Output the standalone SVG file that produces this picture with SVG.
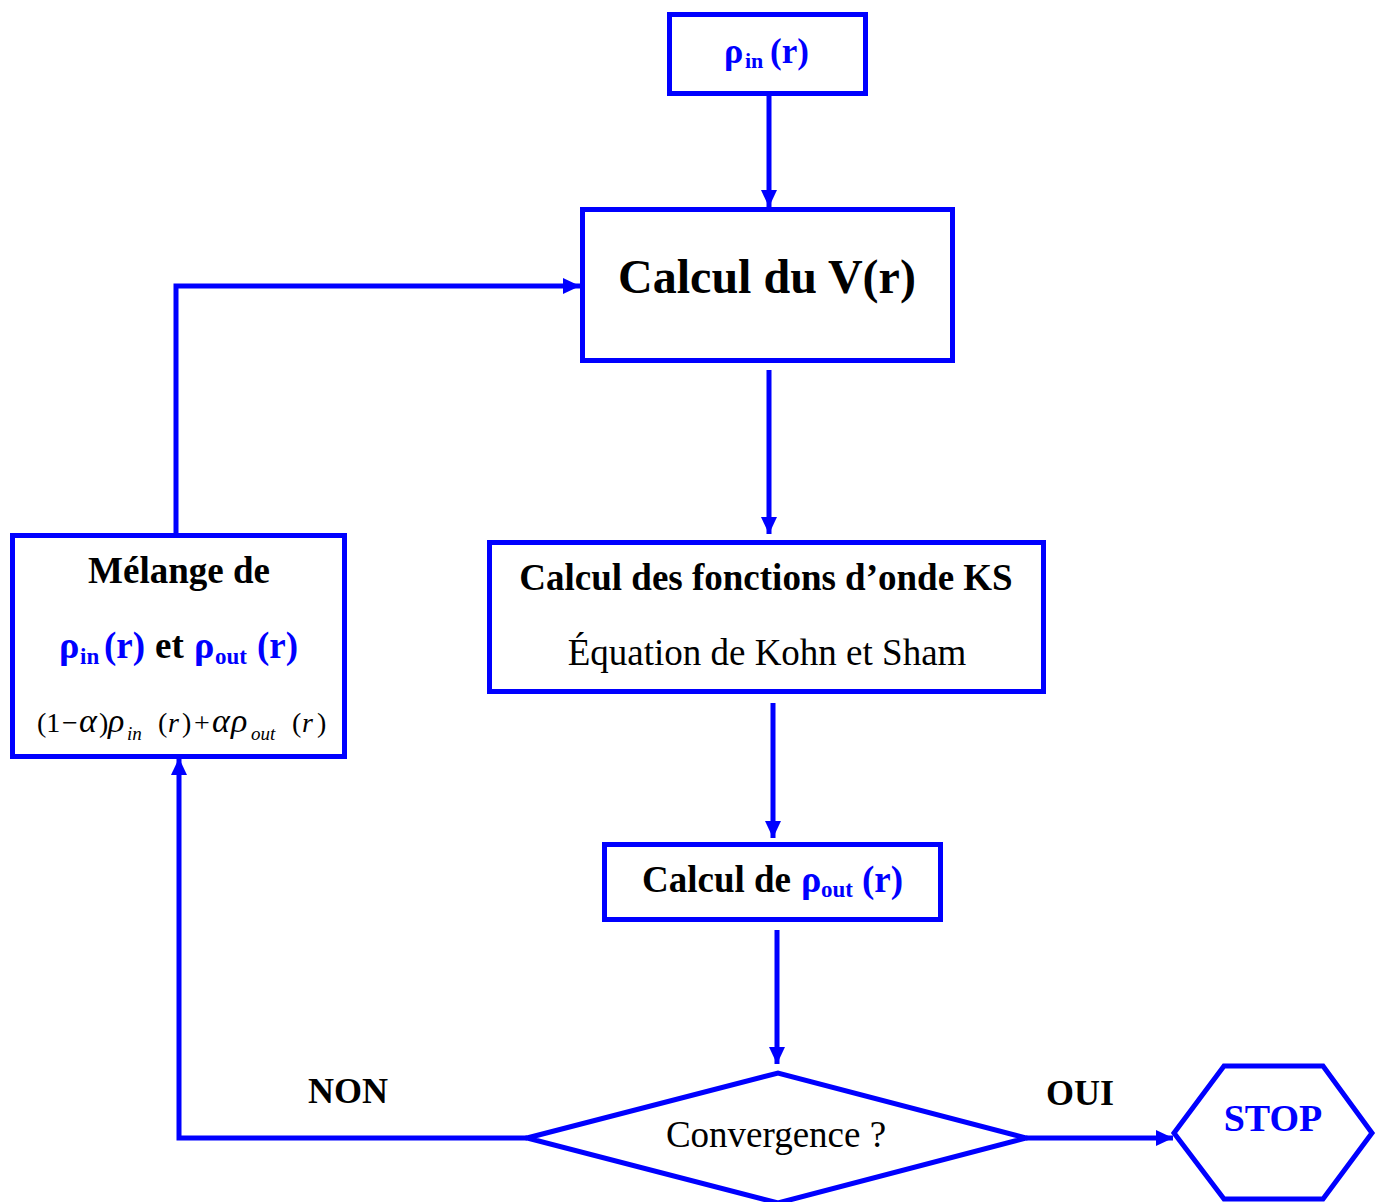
<svg xmlns="http://www.w3.org/2000/svg" width="1380" height="1202" viewBox="0 0 1380 1202">
  <style>
    .box { fill: #ffffff; stroke: #0000ff; stroke-width: 5; }
    .wire { fill: none; stroke: #0000ff; stroke-width: 5; stroke-linejoin: miter; }
    text { font-family: "Liberation Serif", "Times New Roman", serif; fill: #000000; }
    .b { font-weight: bold; }
    .blue { fill: #0000ff; }
    .it { font-style: italic; }
    .gk { font-style: italic; font-size: 34px; }
    .sub { font-style: italic; font-size: 19px; }
  </style>
  <defs>
    <marker id="arrow" markerUnits="userSpaceOnUse" markerWidth="18" markerHeight="18" refX="17" refY="9" orient="auto" viewBox="0 0 18 18">
      <path d="M0,1 L17,9 L0,17 Z" fill="#0000ff"/>
    </marker>
  </defs>

  <rect width="1380" height="1202" fill="#ffffff"/>

  <!-- connectors -->
  <g id="connectors">
    <path class="wire" d="M769,95 L769,207" marker-end="url(#arrow)"/>
    <path class="wire" d="M769,370 L769,534" marker-end="url(#arrow)"/>
    <path class="wire" d="M773,703 L773,838" marker-end="url(#arrow)"/>
    <path class="wire" d="M777,930 L777,1064" marker-end="url(#arrow)"/>
    <path class="wire" d="M1026,1138 L1173,1138" marker-end="url(#arrow)"/>
    <path class="wire" d="M527,1138 L179,1138 L179,758" marker-end="url(#arrow)"/>
    <path class="wire" d="M176,536 L176,286 L580,286" marker-end="url(#arrow)"/>
  </g>

  <!-- initial density -->
  <g id="rho-in">
    <rect class="box" x="669.5" y="14.5" width="196" height="79"/>
    <text class="b blue" font-size="36" x="724" y="63">ρ</text>
    <text class="b blue" font-size="22" x="745" y="68">in</text>
    <text class="b blue" font-size="35" x="770" y="63">(r)</text>
  </g>

  <!-- potential -->
  <g id="calcul-v">
    <rect class="box" x="582.5" y="209.5" width="370" height="151"/>
    <text class="b" font-size="48" x="767" y="293" text-anchor="middle">Calcul du V(r)</text>
  </g>

  <!-- Kohn-Sham wave functions -->
  <g id="calcul-ks">
    <rect class="box" x="489.5" y="542.5" width="554" height="149"/>
    <text class="b" font-size="37" x="766" y="590" text-anchor="middle">Calcul des fonctions d’onde KS</text>
    <text font-size="37" x="767" y="665" text-anchor="middle">Équation de Kohn et Sham</text>
  </g>

  <!-- output density -->
  <g id="calcul-rho-out">
    <rect class="box" x="604.5" y="844.5" width="336" height="75"/>
    <text class="b" font-size="37" x="642" y="892">Calcul de</text>
    <text class="b blue" font-size="38" x="801" y="892">ρ</text>
    <text class="b blue" font-size="23" x="821" y="897">out</text>
    <text class="b blue" font-size="37" x="862" y="892">(r)</text>
  </g>

  <!-- convergence test -->
  <g id="convergence">
    <polygon class="box" points="527,1138 778,1073 1026,1138 778,1203"/>
    <text font-size="37" x="776" y="1147" text-anchor="middle">Convergence ?</text>
  </g>

  <!-- branch labels -->
  <text class="b" font-size="36" x="348" y="1103" text-anchor="middle">NON</text>
  <text class="b" font-size="36" x="1080" y="1105" text-anchor="middle">OUI</text>

  <!-- end -->
  <g id="stop">
    <polygon class="box" points="1174,1133 1224,1066 1323,1066 1372,1133 1323,1199 1224,1199"/>
    <text class="b blue" font-size="38" x="1273" y="1131" text-anchor="middle">STOP</text>
  </g>

  <!-- density mixing -->
  <g id="melange">
    <rect class="box" x="12.5" y="535.5" width="332" height="221"/>
    <text class="b" font-size="37" x="179" y="583" text-anchor="middle">Mélange de</text>
    <text class="b blue" font-size="38" x="59" y="658">ρ</text>
    <text class="b blue" font-size="23" x="80" y="664">in</text>
    <text class="b blue" font-size="37" x="104" y="658">(r)</text>
    <text class="b" font-size="37" x="155" y="658">et</text>
    <text class="b blue" font-size="38" x="194" y="658">ρ</text>
    <text class="b blue" font-size="23" x="215" y="664">out</text>
    <text class="b blue" font-size="37" x="257" y="658">(r)</text>
    <!-- (1-α)ρin(r) + αρout(r) -->
    <g font-size="28">
      <text x="37" y="732">(1</text>
      <text x="62" y="732">−</text>
      <text class="gk" x="79" y="732">α</text>
      <text x="99" y="732">)</text>
      <text class="gk" x="108" y="732">ρ</text>
      <text class="sub" x="127" y="740">in</text>
      <text x="158" y="732">(</text>
      <text class="it" x="168" y="732">r</text>
      <text x="182" y="732">)</text>
      <text x="194" y="732">+</text>
      <text class="gk" x="212" y="732">α</text>
      <text class="gk" x="231" y="732">ρ</text>
      <text class="sub" x="251" y="740">out</text>
      <text x="292" y="732">(</text>
      <text class="it" x="302" y="732">r</text>
      <text x="317" y="732">)</text>
    </g>
  </g>
</svg>
